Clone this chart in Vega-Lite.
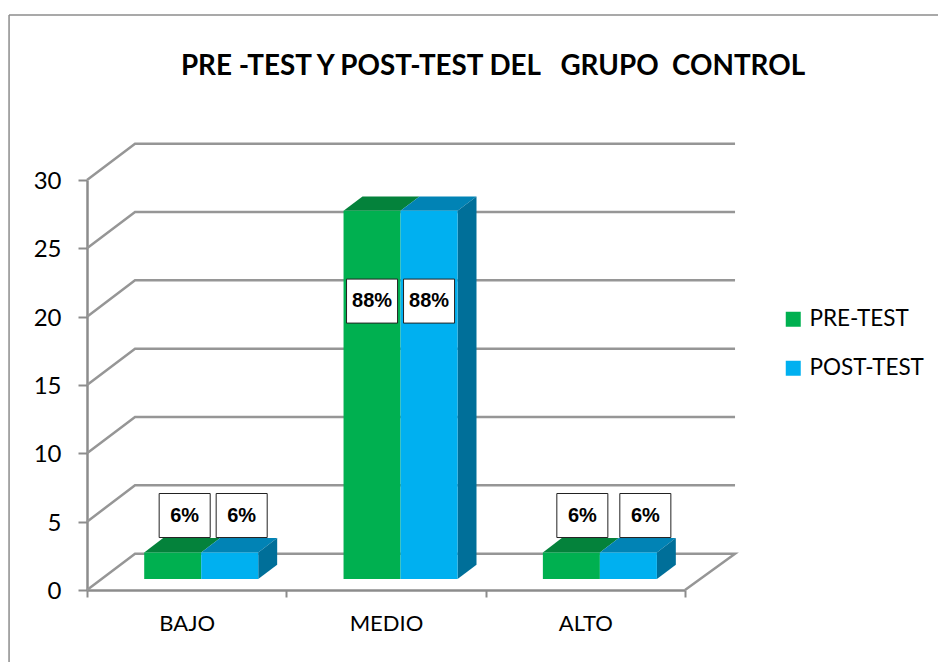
{
"$schema":"https://vega.github.io/schema/vega-lite/v6.json",
"width":598,"height":410,
"autosize":{"type":"none"},
"padding":{"left":87,"top":180,"right":253,"bottom":72},
"background":"white",
"config":{"view":{"stroke":null},"font":"Lato"},
"title":{"text":"PRE -TEST Y POST-TEST DEL\u00a0\u00a0 GRUPO\u00a0 CONTROL","anchor":"middle","dx":107,"offset":-229,"fontSize":27.8,"fontWeight":"bold","font":"Lato","color":"#000000"},
"datasets":{
"barras":[
{"categoria":"BAJO","serie":"PRE-TEST","valor":2,"etiqueta":"6%"},
{"categoria":"BAJO","serie":"POST-TEST","valor":2,"etiqueta":"6%"},
{"categoria":"MEDIO","serie":"PRE-TEST","valor":27,"etiqueta":"88%"},
{"categoria":"MEDIO","serie":"POST-TEST","valor":27,"etiqueta":"88%"},
{"categoria":"ALTO","serie":"PRE-TEST","valor":2,"etiqueta":"6%"},
{"categoria":"ALTO","serie":"POST-TEST","valor":2,"etiqueta":"6%"}
],
"caras":[
{"categoria":"BAJO","serie":"PRE-TEST","valor":2,"d":0},{"categoria":"BAJO","serie":"PRE-TEST","valor":2,"d":1},
{"categoria":"BAJO","serie":"POST-TEST","valor":2,"d":0},{"categoria":"BAJO","serie":"POST-TEST","valor":2,"d":1},
{"categoria":"MEDIO","serie":"PRE-TEST","valor":27,"d":0},{"categoria":"MEDIO","serie":"PRE-TEST","valor":27,"d":1},
{"categoria":"MEDIO","serie":"POST-TEST","valor":27,"d":0},{"categoria":"MEDIO","serie":"POST-TEST","valor":27,"d":1},
{"categoria":"ALTO","serie":"PRE-TEST","valor":2,"d":0},{"categoria":"ALTO","serie":"PRE-TEST","valor":2,"d":1},
{"categoria":"ALTO","serie":"POST-TEST","valor":2,"d":0},{"categoria":"ALTO","serie":"POST-TEST","valor":2,"d":1}
],
"rejilla":[
{"nivel":0,"p":0},{"nivel":0,"p":1},{"nivel":0,"p":2},{"nivel":0,"p":3},
{"nivel":5,"p":0},{"nivel":5,"p":1},{"nivel":5,"p":2},
{"nivel":10,"p":0},{"nivel":10,"p":1},{"nivel":10,"p":2},
{"nivel":15,"p":0},{"nivel":15,"p":1},{"nivel":15,"p":2},
{"nivel":20,"p":0},{"nivel":20,"p":1},{"nivel":20,"p":2},
{"nivel":25,"p":0},{"nivel":25,"p":1},{"nivel":25,"p":2},
{"nivel":30,"p":0},{"nivel":30,"p":1},{"nivel":30,"p":2}
]
},
"data":{"name":"barras"},
"transform":[
{"calculate":"indexof(['BAJO','MEDIO','ALTO'],datum.categoria)+0.287+(datum.serie=='POST-TEST'?0.286:0)","as":"x0"},
{"calculate":"datum.x0+0.286","as":"x1"},
{"calculate":"0.8","as":"base"},
{"calculate":"datum.valor+0.75","as":"tope"},
{"calculate":"datum.x0+0.143+(datum.categoria=='MEDIO'?0:(datum.categoria=='BAJO'?0.06:(datum.serie=='PRE-TEST'?0.055:0.085)))","as":"lx"},
{"calculate":"datum.lx-0.128","as":"lx0"},
{"calculate":"datum.lx+0.128","as":"lx1"},
{"calculate":"datum.valor>10?21.14:5.45","as":"ly"},
{"calculate":"datum.ly-1.61","as":"ly0"},
{"calculate":"datum.ly+1.61","as":"ly1"}
],
"resolve":{"scale":{"x":"independent"}},
"layer":[
{"mark":{"type":"bar","opacity":0},
"encoding":{
"x":{"field":"categoria","type":"nominal","sort":["BAJO","MEDIO","ALTO"],"title":null,"scale":{"paddingInner":0,"paddingOuter":0},
"axis":{"orient":"bottom","tickBand":"extent","labelAngle":0,"labelFontSize":22,"labelColor":"#000000","labelFont":"Lato","labelPadding":16,"tickSize":7,"tickColor":"#8c8c8c","tickWidth":2,"domainColor":"#8c8c8c","domainWidth":2.5}},
"y":{"field":"valor","type":"quantitative","title":null,"scale":{"domain":[0,30],"nice":false},
"axis":{"values":[0,5,10,15,20,25,30],"grid":false,"labelFontSize":24,"labelColor":"#000000","labelFont":"Lato","labelPadding":17,"labelOffset":1.5,"tickSize":9,"tickColor":"#8c8c8c","tickWidth":2,"domainColor":"#8c8c8c","domainWidth":2.5}}
}},
{"layer":[
{"data":{"values":[{}]},"mark":{"type":"rule","color":"#8c8c8c","strokeWidth":1.5,"clip":false},
"encoding":{"x":{"datum":-0.391,"type":"quantitative","scale":{"domain":[0,3],"nice":false,"zero":false},"axis":null},"y":{"datum":-5.3,"type":"quantitative"},"y2":{"datum":42.07}}},
{"data":{"values":[{}]},"mark":{"type":"rule","color":"#8c8c8c","strokeWidth":1.5,"clip":false},
"encoding":{"x":{"datum":-0.391,"type":"quantitative","scale":{"domain":[0,3],"nice":false,"zero":false},"axis":null},"x2":{"datum":4.27},"y":{"datum":42.07,"type":"quantitative"}}},
{"data":{"name":"rejilla"},
"transform":[
{"calculate":"[0,0.241,3.251,3][datum.p]","as":"gx"},
{"calculate":"datum.nivel+(datum.p==0||datum.p==3?0:2.66)","as":"gy"}
],
"mark":{"type":"line","color":"#969696","strokeWidth":2.5,"clip":false},
"encoding":{
"x":{"field":"gx","type":"quantitative","scale":{"domain":[0,3],"nice":false,"zero":false},"axis":null},
"y":{"field":"gy","type":"quantitative"},
"detail":{"field":"nivel"},
"order":{"field":"p"}
}},
{"data":{"name":"caras"},
"transform":[
{"calculate":"indexof(['BAJO','MEDIO','ALTO'],datum.categoria)+0.287+(datum.serie=='POST-TEST'?0.286:0)+datum.d*0.095","as":"ax0"},
{"calculate":"datum.ax0+0.286","as":"ax1"},
{"calculate":"datum.valor+0.75+datum.d*1.05","as":"ay"}],
"mark":{"type":"area","orient":"horizontal","clip":false,"interpolate":"linear"},
"encoding":{
"x":{"field":"ax0","type":"quantitative","scale":{"domain":[0,3],"nice":false,"zero":false},"axis":null},
"x2":{"field":"ax1"},
"y":{"field":"ay","type":"quantitative"},
"detail":[{"field":"categoria"},{"field":"serie"}],
"color":{"condition":{"test":"datum.serie=='PRE-TEST'","value":"#04823b"},"value":"#0183b5"}
}},
{"data":{"name":"caras"},
"transform":[{"filter":"datum.serie=='POST-TEST'"},
{"calculate":"indexof(['BAJO','MEDIO','ALTO'],datum.categoria)+0.859+datum.d*0.095","as":"sx"},
{"calculate":"0.8+datum.d*1.05","as":"sy0"},
{"calculate":"datum.valor+0.75+datum.d*1.05","as":"sy1"}],
"mark":{"type":"area","orient":"vertical","color":"#006f99","clip":false,"interpolate":"linear"},
"encoding":{
"x":{"field":"sx","type":"quantitative","scale":{"domain":[0,3],"nice":false,"zero":false},"axis":null},
"y":{"field":"sy0","type":"quantitative"},
"y2":{"field":"sy1"},
"detail":{"field":"categoria"}
}},
{"mark":{"type":"rect","clip":false},
"encoding":{
"x":{"field":"x0","type":"quantitative","scale":{"domain":[0,3],"nice":false,"zero":false},"axis":null},
"x2":{"field":"x1"},
"y":{"field":"base","type":"quantitative"},
"y2":{"field":"tope"},
"color":{"field":"serie","type":"nominal","title":null,
"scale":{"domain":["PRE-TEST","POST-TEST"],"range":["#00b050","#00b0f0"]},
"legend":{"orient":"none","legendX":695,"legendY":128,"symbolType":"square","symbolSize":225,"symbolStrokeWidth":0,"labelFontSize":22.5,"labelFont":"Lato","labelColor":"#000000","labelOffset":5,"rowPadding":26,"padding":0}}
}},
{"mark":{"type":"rect","fill":"#ffffff","stroke":"#222222","strokeWidth":1,"clip":false},
"encoding":{
"x":{"field":"lx0","type":"quantitative","scale":{"domain":[0,3],"nice":false,"zero":false},"axis":null},
"x2":{"field":"lx1"},
"y":{"field":"ly0","type":"quantitative"},
"y2":{"field":"ly1"}
}},
{"mark":{"type":"text","font":"Liberation Sans","fontWeight":"bold","fontSize":20,"color":"#000000","clip":false},
"encoding":{
"x":{"field":"lx","type":"quantitative","scale":{"domain":[0,3],"nice":false,"zero":false},"axis":null},
"y":{"field":"ly","type":"quantitative"},
"text":{"field":"etiqueta"}
}}
]}
]
}
